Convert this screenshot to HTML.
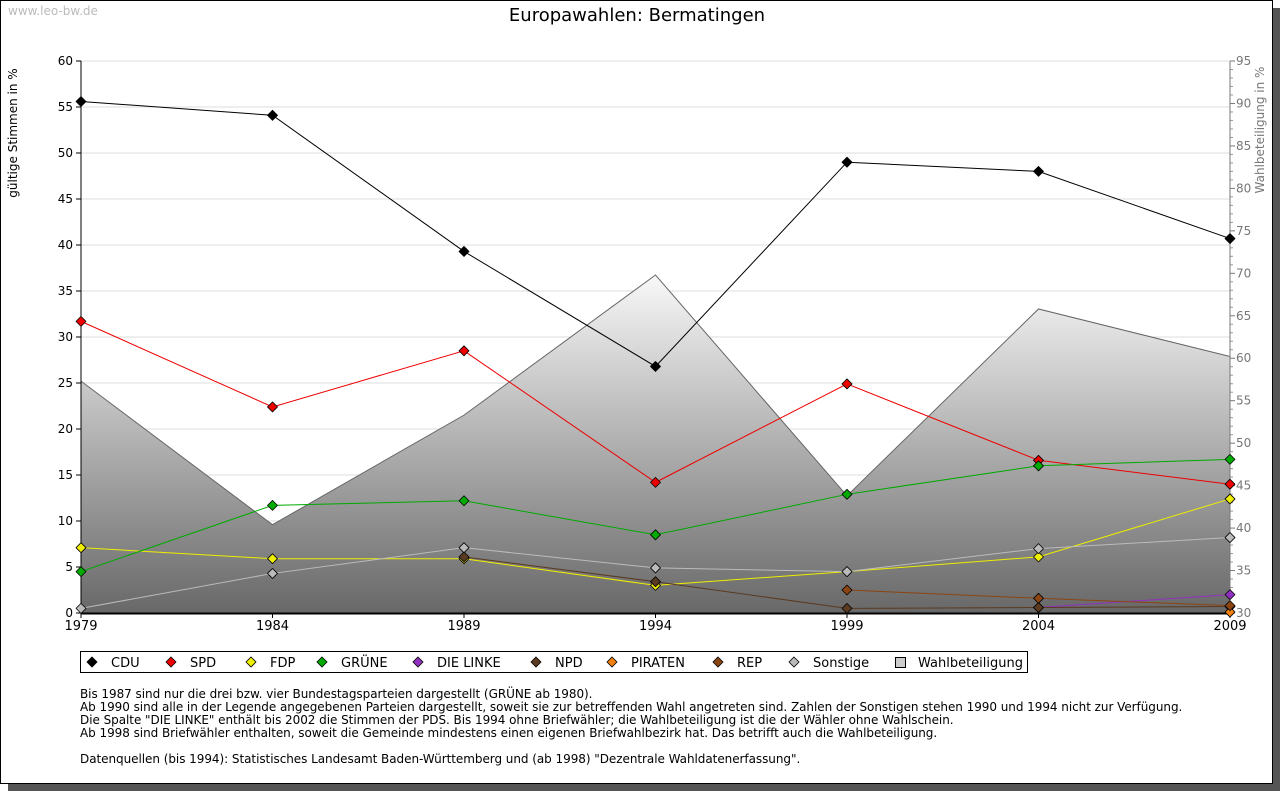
<!DOCTYPE html>
<html><head><meta charset="utf-8"><style>
body{margin:0;background:#fff;}
svg{display:block;font-family:"DejaVu Sans","Liberation Sans",sans-serif;}
</style></head><body>
<svg id="c" width="1280" height="791" xmlns="http://www.w3.org/2000/svg">
<defs><linearGradient id="g" gradientUnits="userSpaceOnUse" x1="0" y1="270" x2="0" y2="613"><stop offset="0" stop-color="#fafafa"/><stop offset="1" stop-color="#686868"/></linearGradient></defs>
<rect x="8" y="8" width="1272" height="783" fill="#555"/>
<rect x="0.5" y="0.5" width="1272" height="783" fill="#fff" stroke="#000"/>
<text x="8" y="15" font-size="12" fill="#bbb">www.leo-bw.de</text>
<text x="637" y="21" font-size="18" text-anchor="middle">Europawahlen: Bermatingen</text>
<text transform="translate(17,133) rotate(-90)" font-size="12" text-anchor="middle">gültige Stimmen in %</text>
<text transform="translate(1264,130) rotate(-90)" font-size="12" fill="#777" text-anchor="middle">Wahlbeteiligung in %</text>
<g id="grid"></g><g id="area"></g><g id="axes"></g><g id="lines"></g>
<rect x="80.5" y="651.5" width="947" height="21" fill="#fff" stroke="#000"/>
<g id="legend"></g>
<g font-size="12" letter-spacing="-0.05">
<text x="80" y="698">Bis 1987 sind nur die drei bzw. vier Bundestagsparteien dargestellt (GRÜNE ab 1980).</text>
<text x="80" y="711">Ab 1990 sind alle in der Legende angegebenen Parteien dargestellt, soweit sie zur betreffenden Wahl angetreten sind. Zahlen der Sonstigen stehen 1990 und 1994 nicht zur Verfügung.</text>
<text x="80" y="724">Die Spalte "DIE LINKE" enthält bis 2002 die Stimmen der PDS. Bis 1994 ohne Briefwähler; die Wahlbeteiligung ist die der Wähler ohne Wahlschein.</text>
<text x="80" y="737">Ab 1998 sind Briefwähler enthalten, soweit die Gemeinde mindestens einen eigenen Briefwahlbezirk hat. Das betrifft auch die Wahlbeteiligung.</text>
<text x="80" y="763">Datenquellen (bis 1994): Statistisches Landesamt Baden-Württemberg und (ab 1998) "Dezentrale Wahldatenerfassung".</text>
</g>
</svg>
<script>
const years=[1979,1984,1989,1994,1999,2004,2009];
const cdu=[55.6,54.1,39.3,26.8,49.0,48.0,40.7];
const spd=[31.7,22.4,28.5,14.2,24.9,16.6,14.0];
const fdp=[7.1,5.9,5.9,3.0,4.5,6.1,12.4];
const gruene=[4.5,11.7,12.2,8.5,12.9,16.0,16.7];
const linke=[null,null,null,null,null,0.6,2.0];
const npd=[null,null,6.1,3.4,0.5,0.6,0.7];
const piraten=[null,null,null,null,null,null,0.1];
const rep=[null,null,null,null,2.5,1.6,0.8];
const sonstige=[0.5,4.3,7.1,4.9,4.5,7.0,8.2];
const turnout=[57.3,40.4,53.3,69.8,43.8,65.8,60.2];
const leftTicks=[0,5,10,15,20,25,30,35,40,45,50,55,60];
const rightTicks=[30,35,40,45,50,55,60,65,70,75,80,85,90,95];
const NS="http://www.w3.org/2000/svg";
const X0=81,X1=1230,YT=61,YB=613;
const x=i=>X0+(years[i]-years[0])/(years[years.length-1]-years[0])*(X1-X0);
const y=v=>YB-v/60*(YB-YT);
const y2=v=>YB-(v-30)/65*(YB-YT);
function el(t,a,p){const e=document.createElementNS(NS,t);for(const k in a)e.setAttribute(k,a[k]);document.getElementById(p).appendChild(e);return e;}
leftTicks.forEach(t=>{
 if(t>0){const l=el('line',{x1:X0,x2:X1,y1:y(t),y2:y(t),stroke:'#ddd'},'grid');
 
 }
 el('line',{x1:X0-5,x2:X0,y1:y(t),y2:y(t),stroke:'#000'},'axes');
 const tx=el('text',{x:X0-8,y:y(t)+4,'font-size':12,'text-anchor':'end'},'axes');tx.textContent=t;
 
 
});
rightTicks.forEach(t=>{
 el('line',{x1:X1,x2:X1+5,y1:y2(t),y2:y2(t),stroke:'#777'},'axes');
 const tx=el('text',{x:X1+6,y:y2(t)+4,'font-size':12,fill:'#777'},'axes');tx.textContent=t;
 
 
});
for(let v=31;v<95;v++){if(v%5)el('line',{x1:X1,x2:X1+3,y1:y2(v),y2:y2(v),stroke:'#999'},'axes');}
let pts=years.map((_,i)=>x(i)+','+y2(turnout[i])).join(' ');
const ar=el('polygon',{points:X0+','+YB+' '+pts+' '+X1+','+YB,fill:'url(#g)'},'area');


el('polyline',{points:pts,fill:'none',stroke:'#666'},'area');
el('line',{x1:X0,x2:X0,y1:YT,y2:YB,stroke:'#000'},'axes');
el('line',{x1:X1,x2:X1,y1:YT,y2:YB,stroke:'#777'},'axes');
el('line',{x1:X0,x2:X1,y1:YB+0.5,y2:YB+0.5,stroke:'#000','stroke-width':2},'axes');
years.forEach((yr,i)=>{el('line',{x1:x(i),x2:x(i),y1:YB,y2:YB+5,stroke:'#000'},'axes');
 const tx=el('text',{x:x(i),y:YB+17,'font-size':13,'text-anchor':'middle'},'axes');tx.textContent=yr;
 
 });
const series=[['cdu',cdu,'#000'],['spd',spd,'#e00'],['fdp',fdp,'#ee0'],['gruene',gruene,'#0a0'],['die-linke',linke,'#9030c0'],['npd',npd,'#5a3a20'],['piraten',piraten,'#f08010'],['rep',rep,'#8b4513'],['sonstige',sonstige,'#bbb']];
function dia(cx,cy,c,p,n){const d=el('polygon',{points:`${cx},${cy-5} ${cx+5},${cy} ${cx},${cy+5} ${cx-5},${cy}`,fill:c,stroke:'#000','stroke-width':0.8,'stroke-linejoin':'round'},p);
 
 }
series.forEach(([n,d,c])=>{
 const p=[];d.forEach((v,i)=>{if(v!==null)p.push(x(i)+','+y(v));});
 const pl=el('polyline',{points:p.join(' '),fill:'none',stroke:c},'lines');
 
 
});
series.forEach(([n,d,c])=>{d.forEach((v,i)=>{if(v!==null)dia(x(i),y(v),c,'lines',n+'-point');});});
const leg=[['CDU','#000',92],['SPD','#e00',171],['FDP','#ee0',251],['GRÜNE','#0a0',322],['DIE LINKE','#9030c0',418],['NPD','#5a3a20',536],['PIRATEN','#f08010',612],['REP','#8b4513',718],['Sonstige','#bbb',794]];
leg.forEach(([t,c,lx])=>{
 el('polygon',{points:`${lx},${657} ${lx+5},${662} ${lx},${667} ${lx-5},${662}`,fill:c,stroke:'#000','stroke-width':0.8},'legend');
 const tx=el('text',{x:lx+19,y:667,'font-size':13},'legend');tx.textContent=t;
 
 
});
el('rect',{x:895.5,y:657.5,width:10,height:10,fill:'#ccc',stroke:'#000'},'legend');
const wt=el('text',{x:918,y:667,'font-size':13},'legend');wt.textContent='Wahlbeteiligung';


</script>
</body></html>
